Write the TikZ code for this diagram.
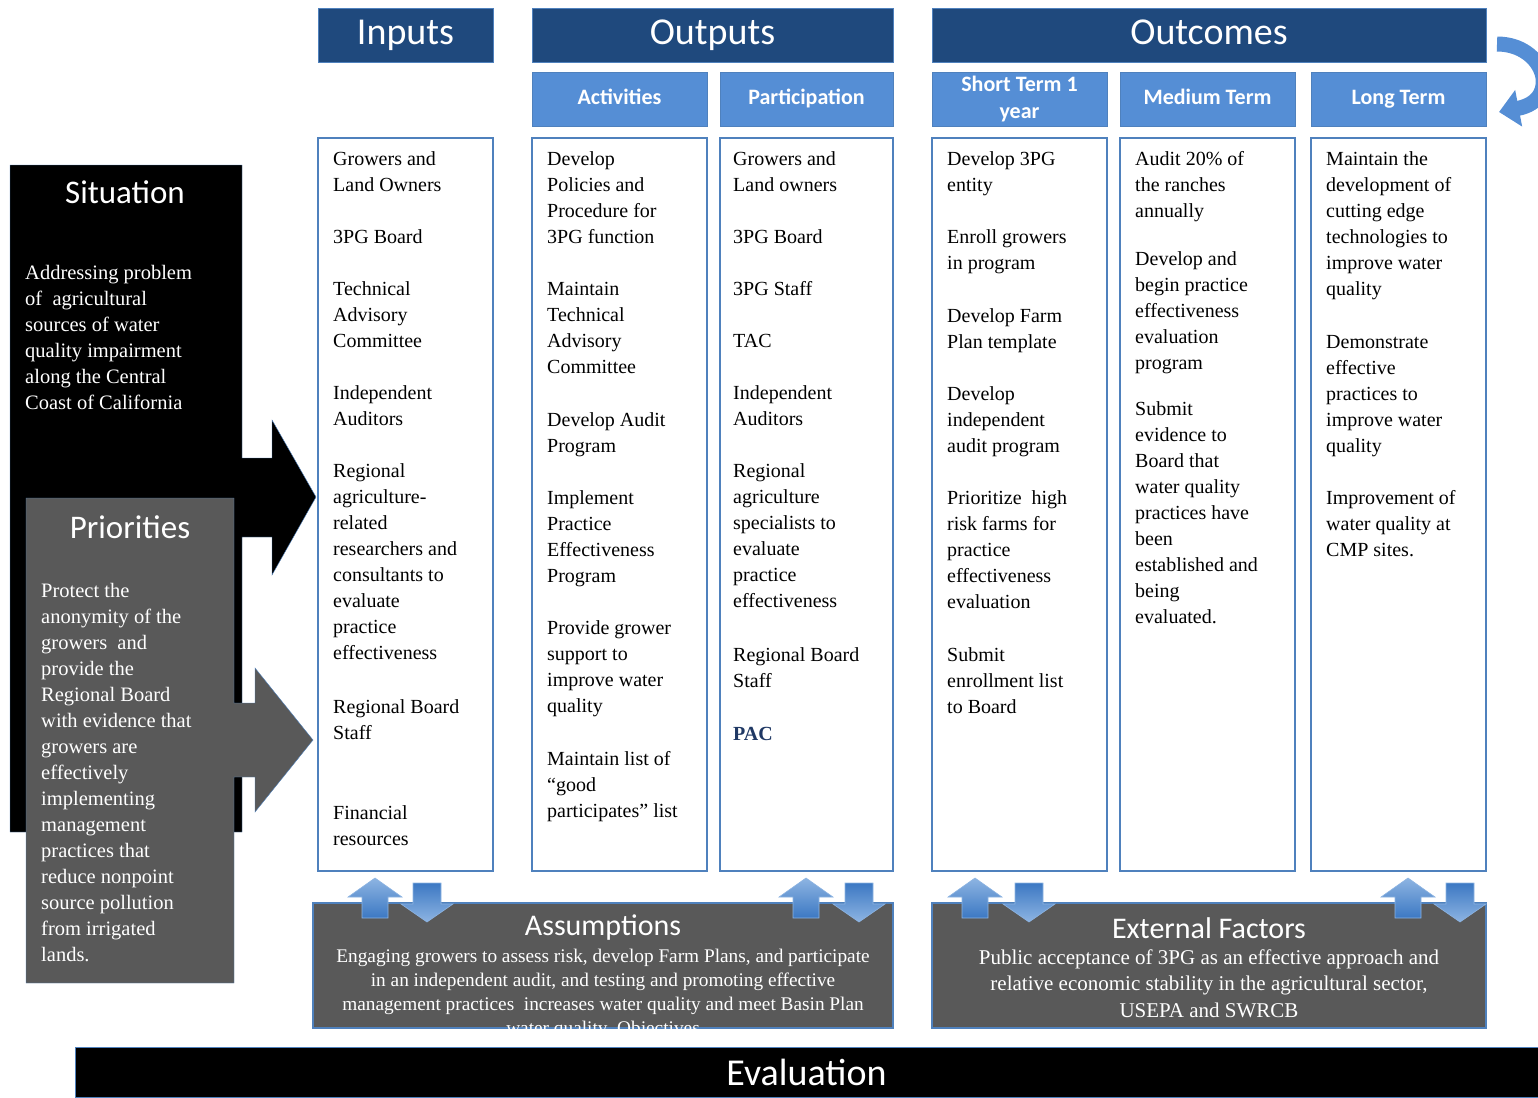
\documentclass[tikz,border=0pt]{standalone}
\usepackage{fontspec}
\setmainfont{Liberation Serif}
\newfontfamily\hdrfont{Carlito}
\usetikzlibrary{shapes.geometric, arrows.meta}
\definecolor{hdrblue}{RGB}{31,73,125}
\definecolor{subblue}{RGB}{85,142,213}
\definecolor{bordblue}{RGB}{79,129,189}
\definecolor{boxgrey}{RGB}{89,89,89}
\definecolor{pacblue}{RGB}{31,56,100}
\definecolor{arrlight}{RGB}{141,180,226}
\definecolor{arrdark}{RGB}{60,120,195}
\tikzstyle{mainhead} = [rectangle, fill=hdrblue, draw=bordblue, text=white, minimum height=54pt, text height=27pt, text depth=8pt, font=\hdrfont\fontsize{38}{40}\selectfont]
\tikzstyle{subhead} = [rectangle, fill=subblue, draw=bordblue, text=white, minimum height=54pt, minimum width=175pt, align=center, text height=16pt, text depth=5pt, font=\hdrfont\bfseries\fontsize{22}{27}\selectfont]
\tikzstyle{column} = [rectangle, draw=bordblue, line width=1.2pt, fill=white, minimum width=175pt, minimum height=733pt]
\tikzstyle{coltext} = [anchor=north west, inner sep=0pt, align=left, font=\fontsize{20}{26}\selectfont]
\tikzstyle{greybox} = [rectangle, fill=boxgrey, draw=bordblue, line width=1.2pt, minimum height=125pt]
\tikzstyle{boxtitle} = [text=white, font=\hdrfont\fontsize{30}{32}\selectfont]
\tikzstyle{boxtext} = [anchor=north, inner sep=0pt, align=center, text=white]
\tikzstyle{sidetitle} = [text=white, font=\hdrfont\fontsize{33}{35}\selectfont]
\tikzstyle{sidetext} = [anchor=north west, inner sep=0pt, align=left, text=white, font=\fontsize{20.5}{26}\selectfont]
\tikzstyle{uparrow} = [top color=arrlight, bottom color=arrdark, draw=arrlight, line width=0.6pt]
\tikzstyle{downarrow} = [top color=arrdark, bottom color=arrlight, draw=arrlight, line width=0.6pt]

\begin{document}
\begin{tikzpicture}[x=1pt, y=-1pt]
        \useasboundingbox (0,0) rectangle (1538,1097);
        % situation and priorities
        \filldraw [fill=black, draw=bordblue] (10,165) -- (242,165) -- (242,458) -- (272,458) -- (272,420) -- (316,497) -- (272,575) -- (272,537) -- (242,537) -- (242,832) -- (10,832) -- cycle;
        \node [sidetitle] at (125,192) (situation) {Situation};
        \node [sidetext] at (25,265) (sittext) {Addressing problem\\ of~ agricultural\\ sources of water\\ quality impairment\\ along the Central\\ Coast of California};
        \filldraw [fill=boxgrey, draw=bordblue] (26,498) -- (234,498) -- (234,703) -- (255,703) -- (255,668) -- (313,740) -- (255,812) -- (255,777) -- (234,777) -- (234,983) -- (26,983) -- cycle;
        \node [sidetitle] at (130,527) (priorities) {Priorities};
        \node [sidetext] at (41,583) (priotext) {Protect the\\ anonymity of the\\ growers~ and\\ provide the\\ Regional Board\\ with evidence that\\ growers are\\ effectively\\ implementing\\ management\\ practices that\\ reduce nonpoint\\ source pollution\\ from irrigated\\ lands.};
        % headers
        \node [mainhead, minimum width=175pt] at (405.5,35) (inputs) {Inputs};
        \node [mainhead, minimum width=361pt] at (712.5,35) (outputs) {Outputs};
        \node [mainhead, minimum width=554pt] at (1209,35) (outcomes) {Outcomes};
        \node [subhead] at (619.5,99) (activities) {Activities};
        \node [subhead, minimum width=173pt] at (806.5,99) (participation) {Participation};
        \node [subhead, text height=, text depth=] at (1019.5,99) (shortterm) {Short Term 1\\ year};
        \node [subhead] at (1207.5,99) (mediumterm) {Medium Term};
        \node [subhead] at (1398.5,99) (longterm) {Long Term};
        % columns
        \node [column] at (405.5,504.5) (incol) {};
        \node [column] at (619.5,504.5) (actcol) {};
        \node [column, minimum width=173pt] at (806.5,504.5) (partcol) {};
        \node [column] at (1019.5,504.5) (shortcol) {};
        \node [column] at (1207.5,504.5) (medcol) {};
        \node [column] at (1398.5,504.5) (longcol) {};
        \node [coltext] at (333,151) (intext) {Growers and\\ Land Owners\\[26pt] 3PG Board\\[26pt] Technical\\ Advisory\\ Committee\\[26pt] Independent\\ Auditors\\[26pt] Regional\\ agriculture-\\ related\\ researchers and\\ consultants to\\ evaluate\\ practice\\ effectiveness\\[28pt] Regional Board\\ Staff\\[54pt] Financial\\ resources};
        \node [coltext] at (547,151) (acttext) {Develop\\ Policies and\\ Procedure for\\ 3PG function\\[26pt] Maintain\\ Technical\\ Advisory\\ Committee\\[27pt] Develop Audit\\ Program\\[26pt] Implement\\ Practice\\ Effectiveness\\ Program\\[26pt] Provide grower\\ support to\\ improve water\\ quality\\[27pt] Maintain list of\\ “good\\ participates” list};
        \node [coltext] at (733,151) (parttext) {Growers and\\ Land owners\\[26pt] 3PG Board\\[26pt] 3PG Staff\\[26pt] TAC\\[26pt] Independent\\ Auditors\\[26pt] Regional\\ agriculture\\ specialists to\\ evaluate\\ practice\\ effectiveness\\[28pt] Regional Board\\ Staff\\[27pt] \textcolor{pacblue}{\textbf{PAC}}};
        \node [coltext] at (947,151) (shorttext) {Develop 3PG\\ entity\\[26pt] Enroll growers\\ in program\\[27pt] Develop Farm\\ Plan template\\[26pt] Develop\\ independent\\ audit program\\[26pt] Prioritize~ high\\ risk farms for\\ practice\\ effectiveness\\ evaluation\\[27pt] Submit\\ enrollment list\\ to Board};
        \node [coltext] at (1135,151) (medtext) {Audit 20\% of\\ the ranches\\ annually\\[22pt] Develop and\\ begin practice\\ effectiveness\\ evaluation\\ program\\[20pt] Submit\\ evidence to\\ Board that\\ water quality\\ practices have\\ been\\ established and\\ being\\ evaluated.};
        \node [coltext] at (1326,151) (longtext) {Maintain the\\ development of\\ cutting edge\\ technologies to\\ improve water\\ quality\\[27pt] Demonstrate\\ effective\\ practices to\\ improve water\\ quality\\[26pt] Improvement of\\ water quality at\\ CMP sites.};
        % assumptions and external factors
        \node [greybox, minimum width=580pt] at (603,965.5) (assump) {};
        \node [boxtitle] at (603,928) (assumptitle) {Assumptions};
        \node [boxtext, font=\fontsize{19.3}{24}\selectfont] at (603,949) (assumptext) {Engaging growers to assess risk, develop Farm Plans, and participate\\ in an independent audit, and testing and promoting effective\\ management practices~ increases water quality and meet Basin Plan\\ water quality~ Objectives};
        \node [greybox, minimum width=554pt] at (1209,965.5) (external) {};
        \node [boxtitle] at (1209,928) (externaltitle) {External Factors};
        \node [boxtext, font=\fontsize{21}{26}\selectfont] at (1209,950) (externaltext) {Public acceptance of 3PG as an effective approach and\\ relative economic stability in the agricultural sector,\\ USEPA and SWRCB};
        % up and down arrows
        \foreach \ux/\dx in {375/427, 806/859, 975/1029, 1408/1460} {
            \path [uparrow] (\ux,878) -- (\ux+27,897) -- (\ux+13,897) -- (\ux+13,918) -- (\ux-13,918) -- (\ux-13,897) -- (\ux-27,897) -- cycle;
            \path [downarrow] (\dx-14,883) -- (\dx+14,883) -- (\dx+14,904) -- (\dx+26,904) -- (\dx,922) -- (\dx-26,904) -- (\dx-14,904) -- cycle;
        }
        % evaluation
        \node [rectangle, fill=black, draw=bordblue, minimum width=1463pt, minimum height=50pt, text=white, font=\hdrfont\fontsize{38}{40}\selectfont] at (806.5,1072) (evaluation) {Evaluation};
        % loop back arrow
        \draw [line width=15pt, color=subblue, -{Triangle[length=20pt, width=36pt]}] (1497,44) .. controls (1545,44) and (1562,100) .. (1499,112);
\end{tikzpicture}
\end{document}
